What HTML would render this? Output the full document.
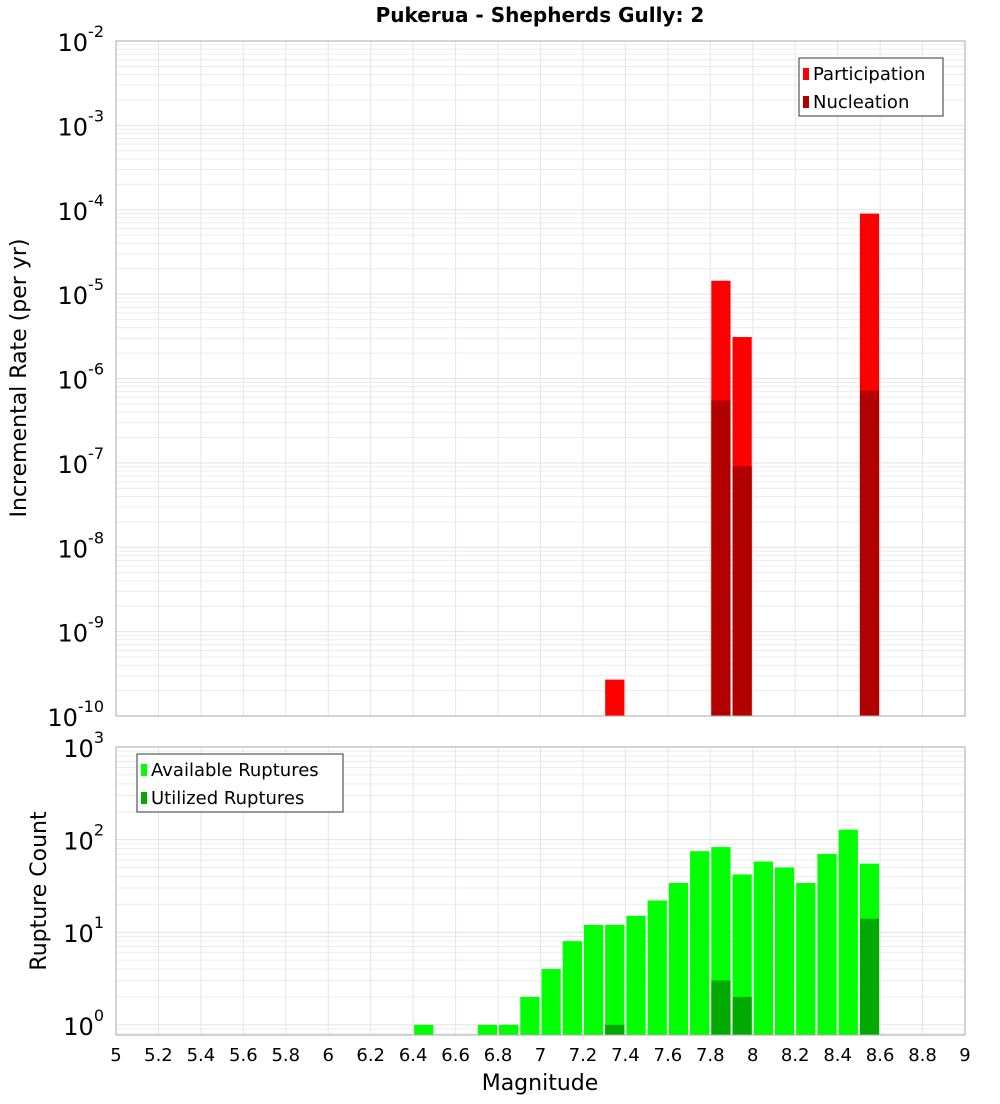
<!DOCTYPE html>
<html><head><meta charset="utf-8"><style>
body{margin:0;background:#fff;font-family:"DejaVu Sans","Liberation Sans",sans-serif}
svg text{font-family:"DejaVu Sans","Liberation Sans",sans-serif}
</style></head><body>
<svg id="c" width="1000" height="1100" xmlns="http://www.w3.org/2000/svg">
<text x="540" y="22" text-anchor="middle" font-size="20" font-weight="bold">Pukerua - Shepherds Gully: 2</text>
<text transform="translate(26,378) rotate(-90)" text-anchor="middle" font-size="22">Incremental Rate (per yr)</text>
<text transform="translate(46,891) rotate(-90)" text-anchor="middle" font-size="22">Rupture Count</text>
<text x="540" y="1090" text-anchor="middle" font-size="22">Magnitude</text>
<g id="g"></g>
</svg>
<script>
const rateMags=[7.35,7.85,7.95,8.55];
const participation=[2.7e-10,1.44e-5,3.1e-6,9.0e-5];
const nucleation=[0,5.5e-7,9.1e-8,7.2e-7];
const countMags=[6.45,6.75,6.85,6.95,7.05,7.15,7.25,7.35,7.45,7.55,7.65,7.75,7.85,7.95,8.05,8.15,8.25,8.35,8.45,8.55];
const available=[1,1,1,2,4,8,12,12,15,22,34,75,83,42,58,50,34,70,128,55];
const utilized=[0,0,0,0,0,0,0,1,0,0,0,0,3,2,0,0,0,0,0,14];
const xTicks=["5","5.2","5.4","5.6","5.8","6","6.2","6.4","6.6","6.8","7","7.2","7.4","7.6","7.8","8","8.2","8.4","8.6","8.8","9"];
const topExp=[-2,-3,-4,-5,-6,-7,-8,-9,-10];
const botExp=[3,2,1,0];

const NS="http://www.w3.org/2000/svg";
const g=document.getElementById('g');
function el(t,a,p){const e=document.createElementNS(NS,t);for(const k in a)e.setAttribute(k,a[k]);(p||g).appendChild(e);return e;}
const L=116,R=965;
const X=m=>L+(m-5)/4*(R-L);
const T={top:41,bot:716,lmin:-10,lmax:-2};
const B={top:747,bot:1035,lmin:-0.11,lmax:3};
const Y=(P,v)=>P.bot-(Math.log10(v)-P.lmin)/(P.lmax-P.lmin)*(P.bot-P.top);

function panel(P,name){
  const bg=el('rect',{x:L,y:P.top,width:R-L,height:P.bot-P.top,fill:'#fff'});
  
  
  for(let d=Math.floor(P.lmin);d<P.lmax;d++){for(let k=1;k<10;k++){const v=k*Math.pow(10,d);const lv=Math.log10(v);if(lv<P.lmin||lv>P.lmax)continue;const y=Y(P,v);
    const ln=el('line',{x1:L,x2:R,y1:y,y2:y,stroke:k==1?'#e2e2e2':'#ececec','stroke-width':1});
    
    }}
  xTicks.forEach(t=>{const x=X(+t);const ln=el('line',{x1:x,x2:x,y1:P.top,y2:P.bot,stroke:'#e6e6e6'});
    
    });
}
panel(T,'top');panel(B,'bottom');

const bw=(X(5.1)-X(5))-2;
function bar(P,m,v,col,name){if(!v)return;const y=Y(P,v);const r=el('rect',{x:X(m)-bw/2,y:y,width:bw,height:P.bot-y,fill:col});
  
  }
rateMags.forEach((m,i)=>{bar(T,m,participation[i],'#ff0000','participation-bar');bar(T,m,nucleation[i],'#b20000','nucleation-bar');});
countMags.forEach((m,i)=>{bar(B,m,available[i],'#00ff00','available-bar');bar(B,m,utilized[i],'#00aa00','utilized-bar');});

[T,B].forEach((P,j)=>{const f=el('rect',{x:L,y:P.top,width:R-L,height:P.bot-P.top,fill:'none',stroke:'#aaa'});
  
  });

function ylab(P,e,name){const y=Y(P,Math.pow(10,e));const t=el('text',{x:104,y:y+10,'text-anchor':'end','font-size':24});
  
  
  t.textContent='10';const s=el('tspan',{dy:-14,'font-size':16},t);s.textContent=String(e);}
topExp.forEach(e=>ylab(T,e,'top-y-tick'));
botExp.forEach(e=>ylab(B,e,'bottom-y-tick'));
xTicks.forEach(t=>{const tx=el('text',{x:X(+t),y:1061,'text-anchor':'middle','font-size':18});
  
  
  tx.textContent=t;});

function legend(x,y,w,items,name){const lg=el('g',{});
  
  
  el('rect',{x:x,y:y,width:w,height:58,fill:'#fff',stroke:'#333'},lg);
  items.forEach((it,i)=>{el('rect',{x:x+4,y:y+10+i*28,width:6,height:12,fill:it[1]},lg);const t=el('text',{x:x+14,y:y+22+i*28,'font-size':18},lg);t.textContent=it[0];});}
legend(799,58,144,[['Participation','#ff0000'],['Nucleation','#b20000']],'top-legend');
legend(137,754,206,[['Available Ruptures','#00ff00'],['Utilized Ruptures','#00aa00']],'bottom-legend');
</script>
</body></html>
